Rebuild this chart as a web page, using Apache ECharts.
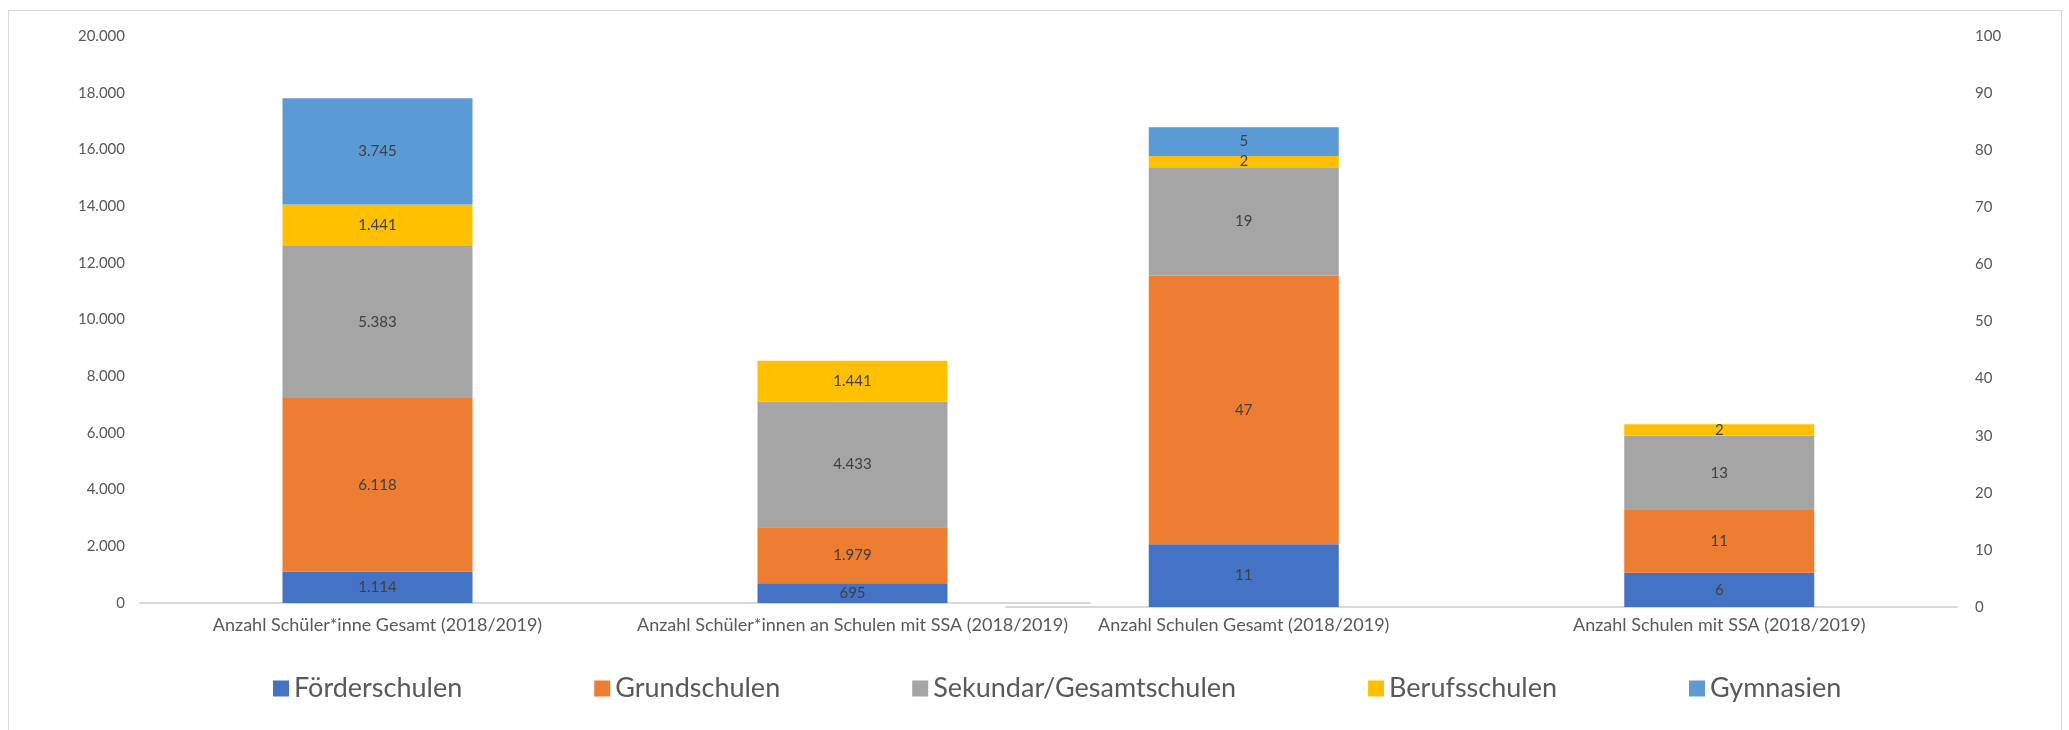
<!DOCTYPE html>
<html>
<head>
<meta charset="utf-8">
<script src="https://cdn.jsdelivr.net/npm/echarts@6/dist/echarts.min.js"></script>
<style>
  html, body { margin: 0; padding: 0; background: #fff; }
  #chart { width: 2069px; height: 730px; }
  .frame { position: absolute; left: 8px; top: 10px; width: 2052px; height: 740px; border: 1px solid #d9d9d9; pointer-events: none; }
</style>
</head>
<body>
<div id="chart"></div>
<div class="frame"></div>
<script>
// Schülerzahlen (linke Achse) und Schulanzahl (rechte Achse)
const studentCategories = ['Anzahl Schüler*inne Gesamt (2018/2019)', 'Anzahl Schüler*innen an Schulen mit SSA (2018/2019)']
const schoolCategories = ['Anzahl Schulen Gesamt (2018/2019)', 'Anzahl Schulen mit SSA (2018/2019)']
const schoolTypes = ['Förderschulen', 'Grundschulen', 'Sekundar/Gesamtschulen', 'Berufsschulen', 'Gymnasien']
const typeColors = ['#4472C4', '#ED7D31', '#A5A5A5', '#FFC000', '#5B9BD5']

// je Schulform: [Gesamt, mit SSA]
const students = [
  [1114, 695],
  [6118, 1979],
  [5383, 4433],
  [1441, 1441],
  [3745, 0]
]
const schools = [
  [11, 6],
  [47, 11],
  [19, 13],
  [2, 2],
  [5, 0]
]

const font = 'Lato, "Open Sans", sans-serif'
const fmt = (v) => String(v).replace(/\B(?=(\d{3})+(?!\d))/g, '.')

const chart = echarts.init(document.getElementById('chart'))

function makeSeries(values, axisIndex, stack) {
  return values.map((row, i) => ({
    name: schoolTypes[i],
    type: 'bar',
    stack: stack,
    xAxisIndex: axisIndex,
    yAxisIndex: axisIndex,
    barWidth: 190,
    itemStyle: { color: typeColors[i] },
    data: row.map((v) => (v === 0 ? '-' : v)),
    label: {
      show: true,
      position: 'inside',
      color: '#404040',
      fontFamily: font,
      fontSize: 15,
      formatter: (p) => fmt(p.value)
    }
  }))
}

const axisLabelStyle = { color: '#595959', fontFamily: font, fontSize: 15 }

chart.setOption({
  animation: false,
  backgroundColor: '#fff',
  legend: {
    data: schoolTypes,
    left: 268,
    top: 670,
    itemWidth: 16,
    itemHeight: 16,
    itemGap: 132,
    icon: 'rect',
    textStyle: { color: '#595959', fontFamily: font, fontSize: 27 }
  },
  grid: [
    { left: 140, width: 950, top: 36, height: 567 },
    { left: 1006, width: 951, top: 36, height: 571 }
  ],
  xAxis: [
    {
      type: 'category',
      gridIndex: 0,
      data: studentCategories,
      axisTick: { show: false },
      axisLine: { lineStyle: { color: '#d9d9d9', width: 2 } },
      axisLabel: { ...axisLabelStyle, fontSize: 18, margin: 13, interval: 0, hideOverlap: false }
    },
    {
      type: 'category',
      gridIndex: 1,
      data: schoolCategories,
      axisTick: { show: false },
      axisLine: { lineStyle: { color: '#d9d9d9', width: 2 } },
      axisLabel: { ...axisLabelStyle, fontSize: 18, margin: 9, interval: 0, hideOverlap: false }
    }
  ],
  yAxis: [
    {
      type: 'value',
      gridIndex: 0,
      min: 0,
      max: 20000,
      interval: 2000,
      splitLine: { show: false },
      axisLine: { show: false },
      axisLabel: { ...axisLabelStyle, margin: 15, formatter: fmt }
    },
    {
      type: 'value',
      gridIndex: 1,
      position: 'right',
      min: 0,
      max: 100,
      interval: 10,
      splitLine: { show: false },
      axisLine: { show: false },
      axisLabel: { ...axisLabelStyle, margin: 18 }
    }
  ],
  series: [...makeSeries(students, 0, 'students'), ...makeSeries(schools, 1, 'schools')]
})
</script>
</body>
</html>
